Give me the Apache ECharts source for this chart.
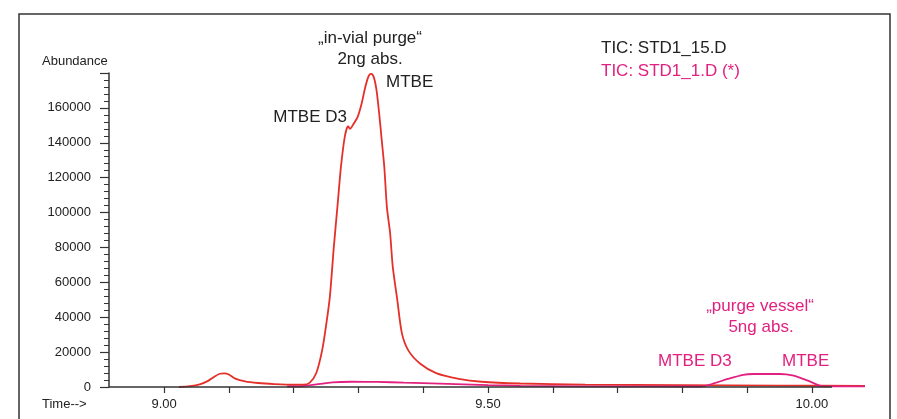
<!DOCTYPE html>
<html>
<head>
<meta charset="utf-8">
<script src="https://cdn.jsdelivr.net/npm/echarts@6/dist/echarts.min.js"></script>
<style>
  html, body { margin: 0; padding: 0; background: #fff; }
  #chart { width: 897px; height: 419px; }
</style>
</head>
<body>
<div id="chart"></div>
<script>
// TIC: STD1_15.D  (in-vial purge, red)
const redTime = [9.023, 9.040, 9.055, 9.068, 9.078, 9.086, 9.093, 9.100, 9.110, 9.125, 9.145, 9.170, 9.200, 9.215,
  9.225, 9.235, 9.244, 9.250, 9.256, 9.262, 9.268, 9.273, 9.279, 9.284, 9.287, 9.292, 9.299, 9.305, 9.310, 9.315,
  9.319, 9.322, 9.325, 9.328, 9.332, 9.336, 9.340, 9.344, 9.349, 9.353, 9.360, 9.367, 9.377, 9.395, 9.420, 9.455,
  9.490, 9.550, 9.650, 9.800, 9.950, 10.082]
const redAbund = [0, 500, 1500, 3500, 6000, 7600, 7800, 7200, 4800, 3200, 2300, 1700, 1300, 1300,
  2500, 8000, 21000, 35000, 52000, 80000, 105000, 126000, 143500, 149500, 148000, 150500, 155000, 162500, 171000, 177500,
  179500, 179000, 176000, 170000, 157000, 141500, 126000, 103000, 88000, 69000, 50000, 31000, 21000, 13500, 8000, 4700,
  3000, 2000, 1400, 1100, 800, 600]

// TIC: STD1_1.D (*)  (purge vessel, pink)
const pinkTime = [9.190, 9.215, 9.235, 9.260, 9.290, 9.330, 9.370, 9.400, 9.450, 9.500, 9.550, 9.650, 9.830,
  9.850, 9.870, 9.894, 9.910, 9.951, 9.970, 9.995, 10.017, 10.082]
const pinkAbund = [300, 500, 1500, 2700, 3000, 2900, 2500, 2200, 1700, 1100, 700, 400, 300,
  2200, 4600, 7000, 7450, 7450, 6600, 3500, 400, 400]

const xTicks = [9.0, 9.1, 9.2, 9.3, 9.4, 9.5, 9.6, 9.7, 9.8, 9.9, 10.0]
const xLabels = [9.0, 9.5, 10.0]
const xAxisEnds = [8.915, 10.031]
const yLabels = [0, 20000, 40000, 60000, 80000, 100000, 120000, 140000, 160000]

const RED = '#e5302a'
const PINK = '#e2207f'
const INK = '#222'
const FONT = "'Liberation Sans', Arial, sans-serif"

const chart = echarts.init(document.getElementById('chart'))

function txt(text, x, y, color, align) {
  return {
    type: 'text',
    x: x,
    y: y,
    style: {
      text: text,
      fill: color,
      font: '17px ' + FONT,
      align: align || 'left',
      verticalAlign: 'middle'
    }
  }
}

chart.setOption({
  animation: false,
  backgroundColor: '#fff',
  grid: {
    left: 109,
    right: 32,
    top: 73,
    bottom: 32
  },
  xAxis: {
    type: 'value',
    min: 8.915,
    max: 10.082,
    splitLine: { show: false },
    axisLine: { show: false },
    axisTick: {
      show: true,
      customValues: xTicks,
      length: 6,
      lineStyle: { color: '#333', width: 1.2 }
    },
    axisLabel: {
      customValues: xLabels,
      margin: 11,
      color: INK,
      fontFamily: FONT,
      fontSize: 13,
      formatter: v => v.toFixed(2)
    }
  },
  yAxis: {
    type: 'value',
    min: 0,
    max: 180000,
    interval: 20000,
    splitLine: { show: false },
    axisLine: { show: true, lineStyle: { color: '#333', width: 1.5 } },
    axisTick: {
      show: true,
      length: 9,
      lineStyle: { color: '#333', width: 1.2 }
    },
    minorTick: {
      show: true,
      splitNumber: 5,
      length: 5,
      lineStyle: { color: '#333', width: 1 }
    },
    axisLabel: {
      customValues: yLabels,
      margin: 18,
      color: INK,
      fontFamily: FONT,
      fontSize: 13,
      formatter: v => String(v)
    }
  },
  series: [
    {
      // time axis baseline, ends short of the traces like the original plot
      type: 'line',
      data: [],
      z: 1,
      silent: true,
      markLine: {
        silent: true,
        symbol: ['none', 'none'],
        label: { show: false },
        lineStyle: { color: '#333', width: 1.5, type: 'solid' },
        data: [[{ coord: [xAxisEnds[0], 0] }, { coord: [xAxisEnds[1], 0] }]]
      }
    },
    {
      name: 'TIC: STD1_15.D',
      type: 'line',
      z: 3,
      data: redTime.map((t, i) => [t, redAbund[i]]),
      showSymbol: false,
      smooth: 0.25,
      lineStyle: { color: RED, width: 1.8 },
      itemStyle: { color: RED }
    },
    {
      name: 'TIC: STD1_1.D (*)',
      type: 'line',
      z: 4,
      data: pinkTime.map((t, i) => [t, pinkAbund[i]]),
      showSymbol: false,
      smooth: 0.25,
      lineStyle: { color: PINK, width: 1.8 },
      itemStyle: { color: PINK }
    }
  ],
  graphic: [
    {
      type: 'rect',
      shape: { x: 19, y: 14, width: 871, height: 420 },
      style: { fill: 'none', stroke: '#333', lineWidth: 1.5 },
      silent: true
    },
    {
      type: 'text', x: 42, y: 61,
      style: { text: 'Abundance', fill: INK, font: '13px ' + FONT, verticalAlign: 'middle' }
    },
    {
      type: 'text', x: 42, y: 404,
      style: { text: 'Time-->', fill: INK, font: '13px ' + FONT, verticalAlign: 'middle' }
    },
    txt('TIC: STD1_15.D', 601, 48, INK),
    txt('TIC: STD1_1.D (*)', 601, 71, PINK),
    txt('\u201Ein-vial purge\u201C', 370, 38, INK, 'center'),
    txt('2ng abs.', 370, 59, INK, 'center'),
    txt('MTBE', 386, 82, INK),
    txt('MTBE D3', 347, 117, INK, 'right'),
    txt('\u201Epurge vessel\u201C', 760, 306, PINK, 'center'),
    txt('5ng abs.', 761, 327, PINK, 'center'),
    txt('MTBE D3', 658, 361, PINK),
    txt('MTBE', 782, 361, PINK)
  ]
})
</script>
</body>
</html>
